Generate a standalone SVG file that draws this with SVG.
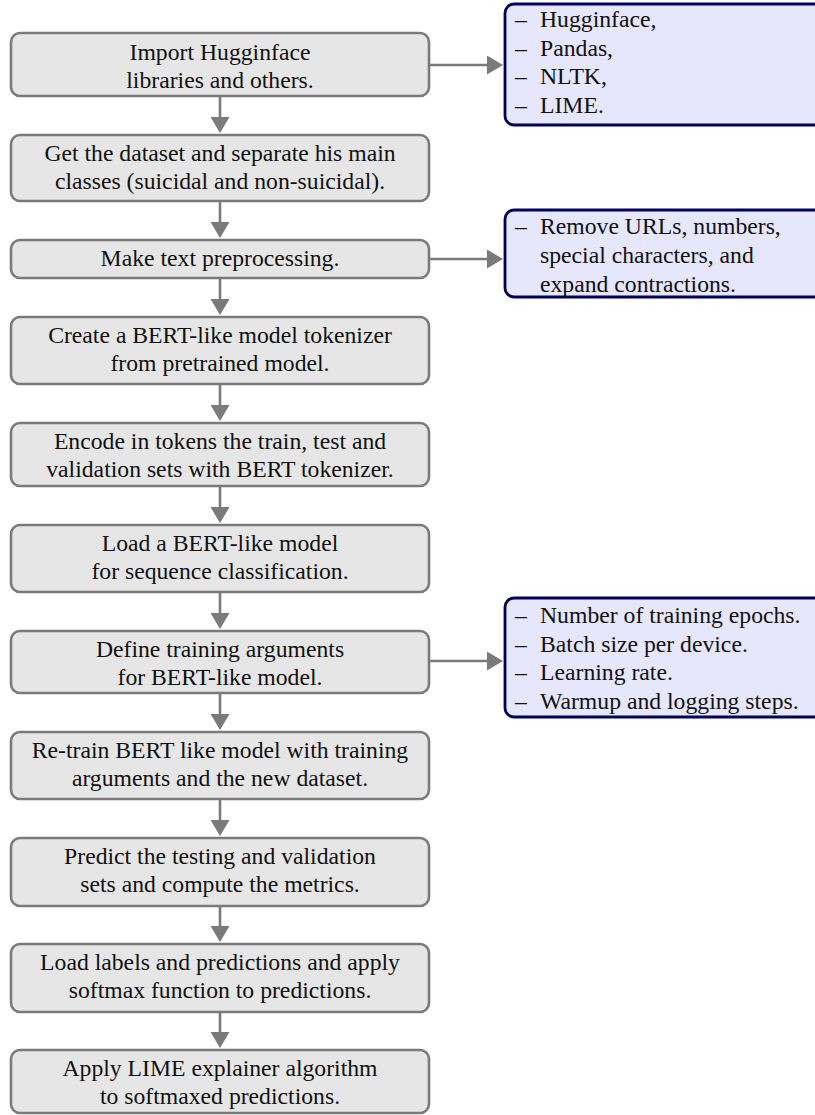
<svg xmlns="http://www.w3.org/2000/svg" width="815" height="1115" viewBox="0 0 815 1115">
<style>
.step rect{fill:#e6e6e6;stroke:#7a7a7a;stroke-width:2.6}
.note rect{fill:#e6e6fc;stroke:#00005e;stroke-width:2.8}
text{font-family:"Liberation Serif","Times New Roman",Times,serif;font-size:23.7px;fill:#111}
.step text{text-anchor:middle}
.conn line{stroke:#7a7a7a;stroke-width:2.6;marker-end:url(#ah)}
</style>
<defs>
<marker id="ah" viewBox="0 0 16 19" refX="12" refY="9.5" markerWidth="16" markerHeight="19" markerUnits="userSpaceOnUse" orient="auto">
<path d="M0,0 L16,9.5 L0,19 Z" fill="#7a7a7a"/>
</marker>
</defs>
<rect width="815" height="1115" fill="#fff"/>

<g id="s1" class="step"><rect x="11" y="33" width="418" height="63" rx="9"/>
<text x="220" y="60">Import Hugginface</text><text x="220" y="88">libraries and others.</text></g>
<g id="s2" class="step"><rect x="11" y="135" width="418" height="66" rx="9"/>
<text x="220" y="161">Get the dataset and separate his main</text><text x="220" y="189">classes (suicidal and non-suicidal).</text></g>
<g id="s3" class="step"><rect x="11" y="240" width="418" height="38" rx="9"/>
<text x="220" y="266">Make text preprocessing.</text></g>
<g id="s4" class="step"><rect x="11" y="317" width="418" height="67" rx="9"/>
<text x="220" y="343">Create a BERT-like model tokenizer</text><text x="220" y="371">from pretrained model.</text></g>
<g id="s5" class="step"><rect x="11" y="423" width="418" height="63" rx="9"/>
<text x="220" y="449">Encode in tokens the train, test and</text><text x="220" y="477">validation sets with BERT tokenizer.</text></g>
<g id="s6" class="step"><rect x="11" y="525" width="418" height="67" rx="9"/>
<text x="220" y="551">Load a BERT-like model</text><text x="220" y="579">for sequence classification.</text></g>
<g id="s7" class="step"><rect x="11" y="631" width="418" height="62" rx="9"/>
<text x="220" y="657">Define training arguments</text><text x="220" y="685">for BERT-like model.</text></g>
<g id="s8" class="step"><rect x="11" y="732" width="418" height="67" rx="9"/>
<text x="220" y="758">Re-train BERT like model with training</text><text x="220" y="786">arguments and the new dataset.</text></g>
<g id="s9" class="step"><rect x="11" y="838" width="418" height="68" rx="9"/>
<text x="220" y="864">Predict the testing and validation</text><text x="220" y="892">sets and compute the metrics.</text></g>
<g id="s10" class="step"><rect x="11" y="944" width="418" height="68" rx="9"/>
<text x="220" y="970">Load labels and predictions and apply</text><text x="220" y="998">softmax function to predictions.</text></g>
<g id="s11" class="step"><rect x="11" y="1050" width="418" height="63" rx="9"/>
<text x="220" y="1076">Apply LIME explainer algorithm</text><text x="220" y="1104">to softmaxed predictions.</text></g>

<g id="n1" class="note"><rect x="505" y="4" width="330" height="121" rx="9"/>
<text x="515" y="27">–</text><text x="540" y="27">Hugginface,</text>
<text x="515" y="55.5">–</text><text x="540" y="55.5">Pandas,</text>
<text x="515" y="84">–</text><text x="540" y="84">NLTK,</text>
<text x="515" y="112.5">–</text><text x="540" y="112.5">LIME.</text></g>
<g id="n2" class="note"><rect x="505" y="210" width="330" height="87" rx="9"/>
<text x="515" y="234">–</text><text x="540" y="234">Remove URLs, numbers,</text>
<text x="540" y="263">special characters, and</text>
<text x="540" y="292">expand contractions.</text></g>
<g id="n3" class="note"><rect x="505" y="598" width="330" height="119" rx="9"/>
<text x="515" y="623">–</text><text x="540" y="623">Number of training epochs.</text>
<text x="515" y="651.5">–</text><text x="540" y="651.5">Batch size per device.</text>
<text x="515" y="680">–</text><text x="540" y="680">Learning rate.</text>
<text x="515" y="708.5">–</text><text x="540" y="708.5">Warmup and logging steps.</text></g>

<g id="connectors" class="conn">
<line x1="220" y1="96" x2="220" y2="129"/>
<line x1="220" y1="201" x2="220" y2="234"/>
<line x1="220" y1="278" x2="220" y2="311"/>
<line x1="220" y1="384" x2="220" y2="417"/>
<line x1="220" y1="486" x2="220" y2="519"/>
<line x1="220" y1="592" x2="220" y2="625"/>
<line x1="220" y1="693" x2="220" y2="726"/>
<line x1="220" y1="799" x2="220" y2="832"/>
<line x1="220" y1="906" x2="220" y2="938"/>
<line x1="220" y1="1012" x2="220" y2="1044"/>
<line x1="429" y1="65" x2="499" y2="65"/>
<line x1="429" y1="259" x2="499" y2="259"/>
<line x1="429" y1="661" x2="499" y2="661"/>
</g>
</svg>
